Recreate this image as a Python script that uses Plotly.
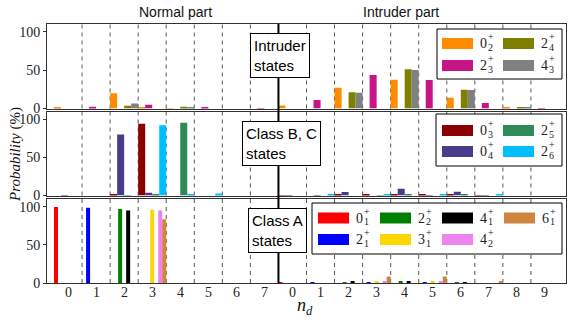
import plotly.graph_objects as go

# ---------------- data ----------------
normal_nd = [0, 1, 2, 3, 4, 5, 6, 7]
intruder_nd = [0, 1, 2, 3, 4, 5, 6, 7, 8, 9]
tick_labels = [str(v) for v in normal_nd + intruder_nd]
section_titles = ["Normal part", "Intruder part"]
ytick_vals = [0, 50, 100]

# Panel 1: intruder states (normal part 0..7, then intruder part 0..9)
s_0_2 = [0.8, 0, 20, 1.3, 0.5, 0, 0, 0, 4, 0, 27, 0, 37.5, 0, 14, 0, 1, 0]
s_2_3 = [0, 2.2, 0, 5, 0, 0.8, 0, 0.3, 0, 11, 0, 43.5, 0, 37, 0, 7.3, 0, 0.5]
s_2_4 = [0, 0, 3.6, 0, 2.4, 0, 0, 0, 0, 0, 21, 0, 51, 0, 24.5, 0, 2, 0]
s_4_3 = [0, 0, 6.5, 0, 1.8, 0, 0, 0, 0, 0, 20.5, 0, 50, 0, 24, 0, 2, 0]

# Panel 2: class B, C states
s_0_3 = [0, 0, 1, 94.5, 0, 0, 0, 0, 0.5, 0, 1, 2, 1, 1.5, 1, 0.5, 0, 0]
s_0_4 = [0.3, 0, 80.5, 3.5, 0, 0, 0, 0, 0.5, 0.3, 4.5, 0, 9, 0.5, 5, 0.3, 0, 0]
s_2_5 = [0, 0, 0.3, 2, 96, 0, 0, 0, 0, 0, 0, 0.5, 2, 0, 1, 0, 0, 0]
s_2_6 = [0, 0, 0, 92.5, 2, 2.5, 0, 0, 0, 1, 0, 1.5, 0, 1.5, 0, 1, 0, 0]

# Panel 3: class A states
s_0_1 = [99.5, 0, 0, 0, 0, 0, 0, 0, 1, 0, 0, 0, 0, 0, 0, 0, 0, 0]
s_2_1 = [0, 98.5, 0, 0, 0, 0, 0, 0, 0, 1, 0, 1, 0, 0.5, 0, 0, 0, 0]
s_2_2 = [0, 0, 97, 0, 0, 0, 0, 0, 0, 0, 1, 0, 1.5, 0, 0.5, 0, 0, 0]
s_3_1 = [0, 0, 0, 96, 0, 0, 0, 0, 0, 0, 0, 2.5, 0, 1.5, 0, 0, 0, 0]
s_4_1 = [0, 0, 95, 0, 0, 0, 0, 0, 0, 0, 2.5, 0, 2.5, 0, 1, 0, 0, 0]
s_4_2 = [0, 0, 0, 95, 0, 0, 0, 0, 0, 0, 0, 2.5, 0, 2, 0, 0, 0, 0]
s_6_1 = [0, 0, 0, 83.5, 0, 0, 0, 0, 0, 0, 0, 8.5, 0, 8.5, 0, 2.2, 0, 0]

panel_titles = ["Intruder<br>states", "Class B, C<br>states", "Class A<br>states"]
panel_series = [
    [(("0", "2"), s_0_2), (("2", "3"), s_2_3), (("2", "4"), s_2_4), (("4", "3"), s_4_3)],
    [(("0", "3"), s_0_3), (("0", "4"), s_0_4), (("2", "5"), s_2_5), (("2", "6"), s_2_6)],
    [(("0", "1"), s_0_1), (("2", "1"), s_2_1), (("2", "2"), s_2_2), (("3", "1"), s_3_1),
     (("4", "1"), s_4_1), (("4", "2"), s_4_2), (("6", "1"), s_6_1)],
]
panel_colors = [
    ["#FF8C00", "#C71585", "#808000", "#808080"],
    ["#8B0000", "#483D8B", "#2E8B57", "#00BFFF"],
    ["#FF0000", "#0000FF", "#008000", "#FFD700", "#000000", "#EE82EE", "#CD853F"],
]

# ---------------- layout geometry (pixels) ----------------
FW, FH = 572, 325
L, R, T, B = 47, 566, 24, 283
W, H = R - L, B - T


def px(x):
    return (x - L) / W


def py(y):
    return (B - y) / H


y_domains = [[py(108.5), 1.0], [py(195.5), py(112)], [0.0, py(199)]]
n_cat = len(tick_labels)
xpos = list(range(n_cat))
split = len(normal_nd) - 0.5

SERIF = "Liberation Serif"
SANS = "Liberation Sans"

fig = go.Figure()
for k, (series, colors) in enumerate(zip(panel_series, panel_colors)):
    ax = "" if k == 0 else str(k + 1)
    n = len(series)
    for j, (((main, sub), vals), col) in enumerate(zip(series, colors)):
        fig.add_trace(go.Bar(
            x=xpos, y=vals, marker=dict(color=col, line=dict(width=0)),
            width=1.0 / n, offset=-0.5 + j / n,
            xaxis="x" + ax, yaxis="y" + ax, showlegend=False,
            name=f"{main}_{sub}+",
        ))

layout = dict(
    template="none",
    width=FW, height=FH,
    margin=dict(l=L, r=FW - R, t=T, b=FH - B, autoexpand=False),
    paper_bgcolor="white", plot_bgcolor="white",
    barmode="overlay",
    showlegend=False,
    font=dict(family=SERIF, size=14, color="black"),
)
for k in range(3):
    ax = "" if k == 0 else str(k + 1)
    layout["xaxis" + ax] = dict(
        domain=[0, 1], anchor="y" + ax, range=[-0.75, n_cat - 0.25],
        showgrid=False, zeroline=False, showline=True, mirror=True,
        linecolor="#333", linewidth=1, ticks="", automargin=False,
        showticklabels=False,
    )
    layout["yaxis" + ax] = dict(
        domain=y_domains[k], anchor="x" + ax, range=[0, 110],
        tickvals=ytick_vals, ticks="outside", ticklen=3, tickcolor="#333",
        showgrid=False, zeroline=False, showline=True, mirror=True,
        linecolor="#333", linewidth=1, automargin=False,
        tickfont=dict(family=SERIF, size=14, color="#222"),
    )
fig.update_layout(**layout)

shapes = []
annotations = []
# dashed separators between categories
for k in range(3):
    ax = "" if k == 0 else str(k + 1)
    for i in range(n_cat - 1):
        b = i + 0.5
        if b == split:
            continue
        shapes.append(dict(type="line", xref="x" + ax, yref="y" + ax + " domain",
                           x0=b, x1=b, y0=0, y1=1, layer="below",
                           line=dict(color="#555", width=1, dash="4px,4px")))
# thick separator between normal and intruder parts
shapes.append(dict(type="line", xref="x3", yref="paper", x0=split, x1=split,
                   y0=0, y1=1, layer="above", line=dict(color="black", width=2)))

# x tick labels (bottom panel)
for xv, lab in zip(xpos, tick_labels):
    annotations.append(dict(text=lab, x=xv, y=py(292), xref="x3", yref="paper",
                            showarrow=False, xanchor="center", yanchor="middle",
                            font=dict(family=SERIF, size=14, color="#222")))

# section titles
for txt, cx in zip(section_titles, [175, 401]):
    annotations.append(dict(text=txt, x=px(cx), y=py(12), xref="paper", yref="paper",
                            showarrow=False, xanchor="center", yanchor="middle",
                            font=dict(family=SANS, size=14, color="#111")))

# panel title boxes
box_centers = [(279.5, 55.5), (281.5, 143.5), (277, 230.5)]
for txt, (cx, cy) in zip(panel_titles, box_centers):
    annotations.append(dict(text=txt, x=px(cx), y=py(cy), xref="paper", yref="paper",
                            showarrow=False, xanchor="center", yanchor="middle",
                            align="left", bgcolor="white", bordercolor="black",
                            borderwidth=1, borderpad=3,
                            font=dict(family=SANS, size=15, color="black")))

# legends (drawn manually)
legend_boxes = [(437, 29, 562, 79), (436, 114, 562, 166), (312, 203, 562, 254)]
legend_cols = [[442, 503], [442, 503], [318, 380, 442, 504]]
legend_rows = [[43.5, 65.5], [130.5, 151.5], [218, 239.5]]
SW_W, SW_H = 31, 11
for k in range(3):
    x0, y0, x1, y1 = legend_boxes[k]
    shapes.append(dict(type="rect", xref="paper", yref="paper",
                       x0=px(x0), x1=px(x1), y0=py(y1), y1=py(y0), layer="above",
                       fillcolor="white", line=dict(color="black", width=1)))
    for j, (((main, sub), _), col) in enumerate(zip(panel_series[k], panel_colors[k])):
        c = j // 2
        r = j % 2
        sx = legend_cols[k][c]
        sy = legend_rows[k][r]
        shapes.append(dict(type="rect", xref="paper", yref="paper",
                           x0=px(sx), x1=px(sx + SW_W), y0=py(sy + SW_H / 2),
                           y1=py(sy - SW_H / 2), layer="above",
                           fillcolor=col, line=dict(width=0)))
        lx = sx + SW_W + 5
        annotations.append(dict(text=main, x=px(lx), y=py(sy), xref="paper", yref="paper",
                                showarrow=False, xanchor="left", yanchor="middle",
                                font=dict(family=SERIF, size=14, color="#222")))
        annotations.append(dict(text="+", x=px(lx + 7.5), y=py(sy - 7), xref="paper",
                                yref="paper", showarrow=False, xanchor="left",
                                yanchor="middle",
                                font=dict(family=SERIF, size=10, color="#222")))
        annotations.append(dict(text=sub, x=px(lx + 7.5), y=py(sy + 3.5), xref="paper",
                                yref="paper", showarrow=False, xanchor="left",
                                yanchor="middle",
                                font=dict(family=SERIF, size=10, color="#222")))

# axis titles
annotations.append(dict(text="<i>Probability</i> (%)", x=px(15), y=py(155), xref="paper",
                        yref="paper", showarrow=False, textangle=-90,
                        xanchor="center", yanchor="middle",
                        font=dict(family=SERIF, size=15, color="#111")))
annotations.append(dict(text="<i>n<sub>d</sub></i>", x=px(305), y=py(306), xref="paper",
                        yref="paper", showarrow=False, xanchor="center",
                        yanchor="middle",
                        font=dict(family=SERIF, size=18, color="#111")))

fig.update_layout(shapes=shapes, annotations=annotations)
fig.write_html(
    "out.html",
    config={"displayModeBar": False},
    post_script="document.body.style.margin='0px';document.body.style.padding='0px';",
)
